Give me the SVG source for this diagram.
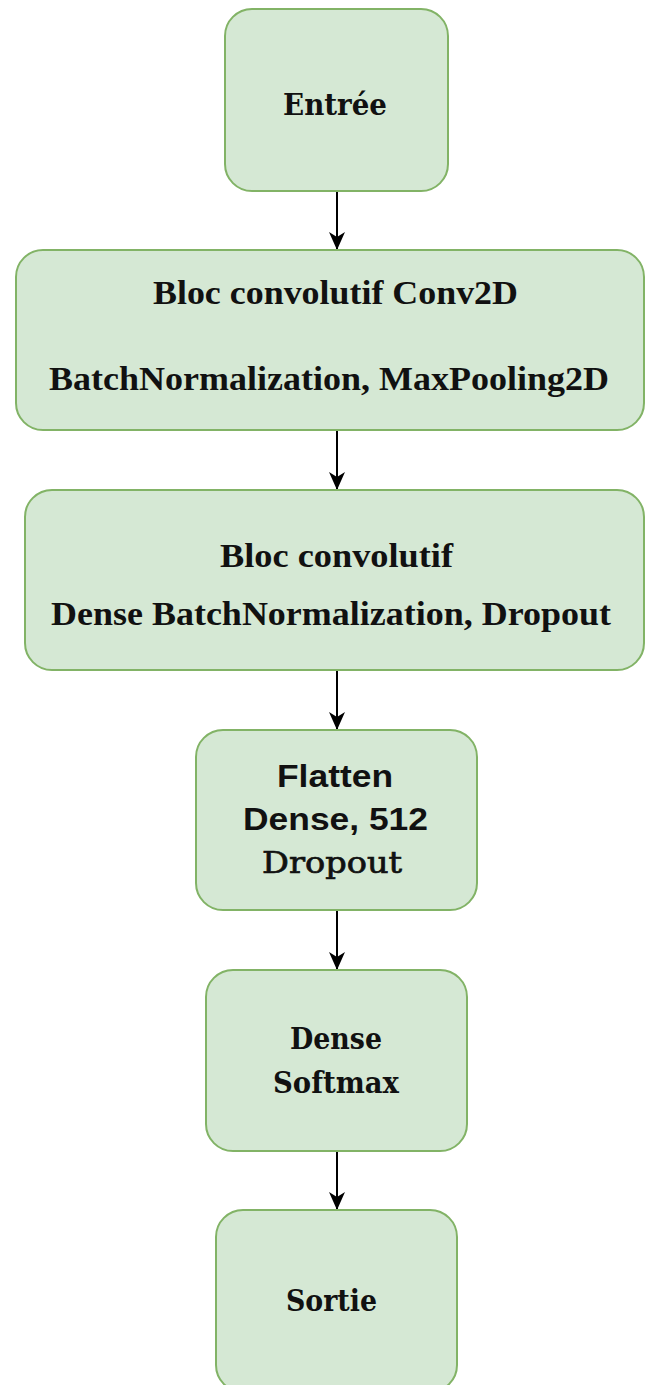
<svg xmlns="http://www.w3.org/2000/svg" width="646" height="1385" viewBox="0 0 646 1385">
<style>
.box{fill:#d5e8d4;stroke:#82b366;stroke-width:2}
.tr{font-family:"Liberation Serif","Times New Roman",serif;font-weight:bold;font-size:33px;fill:#111}
.ds{font-family:"DejaVu Serif",serif;font-weight:bold;font-size:30px;fill:#111}
.dsn{font-family:"DejaVu Serif",serif;font-weight:normal;font-size:29px;fill:#111;stroke:#111;stroke-width:0.7}
.sa{font-family:"Liberation Sans",Arial,sans-serif;font-weight:bold;font-size:32px;fill:#111}
.edge{stroke:#000;stroke-width:2;fill:none}
</style>
<defs>
<marker id="arr" viewBox="0 0 18 16" refX="18" refY="8" markerWidth="18" markerHeight="16" markerUnits="userSpaceOnUse" orient="auto">
<path d="M0,0 L18,8 L0,16 L5,8 Z" fill="#000"/>
</marker>
</defs>
<rect width="646" height="1385" fill="#fff"/>
<g id="connectors">
<line class="edge" x1="337" y1="191" x2="337" y2="250" marker-end="url(#arr)"/>
<line class="edge" x1="337" y1="431" x2="337" y2="490" marker-end="url(#arr)"/>
<line class="edge" x1="337" y1="671" x2="337" y2="730" marker-end="url(#arr)"/>
<line class="edge" x1="337" y1="911" x2="337" y2="970" marker-end="url(#arr)"/>
<line class="edge" x1="337" y1="1152" x2="337" y2="1210" marker-end="url(#arr)"/>
</g>
<g id="entree">
<rect class="box" x="225" y="9" width="223" height="182" rx="27"/>
<text class="ds" x="283" y="115" textLength="104" lengthAdjust="spacingAndGlyphs">Entrée</text>
</g>
<g id="bloc1">
<rect class="box" x="16" y="250" width="628" height="180" rx="27"/>
<text class="tr" x="153" y="304" textLength="365" lengthAdjust="spacingAndGlyphs">Bloc convolutif Conv2D</text>
<text class="tr" x="49" y="390" textLength="560" lengthAdjust="spacingAndGlyphs">BatchNormalization, MaxPooling2D</text>
</g>
<g id="bloc2">
<rect class="box" x="25" y="490" width="619" height="180" rx="27"/>
<text class="tr" x="220" y="567" textLength="233" lengthAdjust="spacingAndGlyphs">Bloc convolutif</text>
<text class="tr" x="51" y="625" textLength="560" lengthAdjust="spacingAndGlyphs">Dense BatchNormalization, Dropout</text>
</g>
<g id="flatten">
<rect class="box" x="196" y="730" width="281" height="180" rx="27"/>
<text class="sa" x="277" y="787" textLength="116" lengthAdjust="spacingAndGlyphs">Flatten</text>
<text class="sa" x="243" y="830" textLength="185" lengthAdjust="spacingAndGlyphs">Dense, 512</text>
<text class="dsn" x="262" y="873" textLength="140" lengthAdjust="spacingAndGlyphs">Dropout</text>
</g>
<g id="dense">
<rect class="box" x="206" y="970" width="261" height="181" rx="27"/>
<text class="ds" x="290" y="1049" textLength="92" lengthAdjust="spacingAndGlyphs">Dense</text>
<text class="ds" x="273" y="1093" textLength="126" lengthAdjust="spacingAndGlyphs">Softmax</text>
</g>
<g id="sortie">
<rect class="box" x="216" y="1210" width="241" height="182" rx="27"/>
<text class="ds" x="286" y="1311" textLength="91" lengthAdjust="spacingAndGlyphs">Sortie</text>
</g>
</svg>
